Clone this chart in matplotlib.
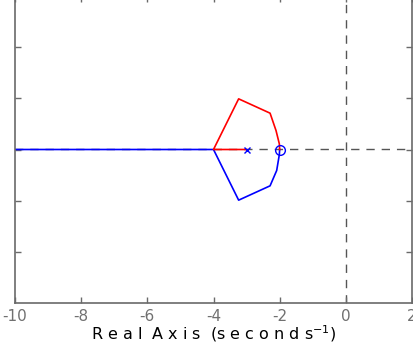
import matplotlib
matplotlib.use("Agg")
import matplotlib.pyplot as plt

# root locus branches
red_x = [-3.0, -4.0, -3.24, -2.29, -2.11, -2.01, -2.0]
red_y = [0.0, 0.0, 0.99, 0.71, 0.37, 0.11, 0.0]
blue_x = [-10.0, -4.0, -3.24, -2.29, -2.09, -2.01, -2.0]
blue_y = [0.0, 0.0, -0.99, -0.71, -0.41, -0.10, 0.0]

poles = [-3.0]
zeros = [-2.0]

x_ticks = [-10, -8, -6, -4, -2, 0, 2]
y_ticks = [-2, -1, 0, 1, 2]

fig = plt.figure(figsize=(4.13, 3.5), dpi=100)
ax = fig.add_axes([15 / 413, 47 / 350, 397 / 413, 307 / 350])

# dashed zero lines
ax.axhline(0, color="#555555", ls=(0, (6, 5)), lw=1.0, zorder=1, snap=False)
ax.axvline(0, color="#555555", ls=(0, (6, 5)), lw=1.0, zorder=1)

ax.plot(blue_x, blue_y, color="blue", lw=1.2, zorder=2, snap=False)
ax.plot(red_x, red_y, color="red", lw=1.2, zorder=2, snap=False)

ax.plot(poles, [0] * len(poles), "x", color="blue", ms=4, mew=1.0, zorder=3)
ax.plot(zeros, [0] * len(zeros), "o", mfc="none", mec="blue", ms=7, mew=1.0, zorder=3)

ax.set_xlim(-10, 2)
ax.set_ylim(-3, 3)
ax.set_xticks(x_ticks)
ax.set_xticklabels([str(t) for t in x_ticks])
ax.set_yticks(y_ticks)
ax.set_yticklabels([])

for side in ["left", "bottom", "right", "top"]:
    ax.spines[side].set_color("#6a6a6a")
    ax.spines[side].set_linewidth(1.2)

ax.tick_params(direction="in", length=4, width=1.0, colors="#6a6a6a",
               labelcolor="#707070", labelsize=11, right=True, top=True, pad=4)

ax.set_xlabel("R e a l  A x i s  (s e c o n d s$^{\\mathregular{-1}}$)",
              fontsize=11.5, color="black", labelpad=0)

fig.savefig("out.png", dpi=100)
